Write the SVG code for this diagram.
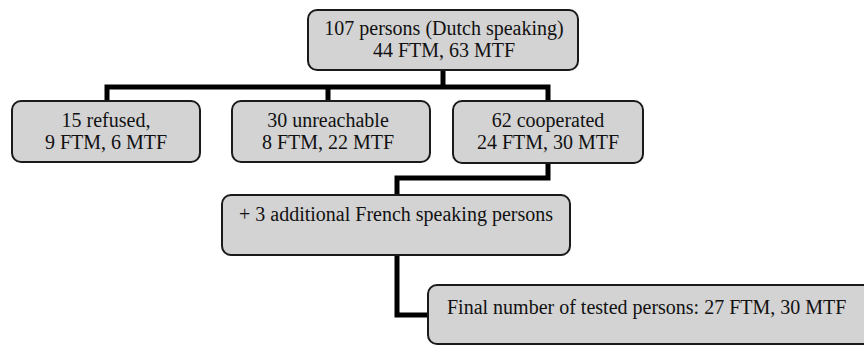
<svg xmlns="http://www.w3.org/2000/svg" width="864" height="346" viewBox="0 0 864 346">
<style>
.box{fill:#d3d3d3;stroke:#1a1a1a;stroke-width:2}
.t{font-family:"Liberation Serif","Times New Roman",serif;font-size:20px;fill:#111;text-anchor:middle}
.c{fill:none;stroke:#000;stroke-width:5;stroke-linejoin:miter}
</style>
<rect width="864" height="346" fill="#fff"/>
<g id="connectors">
<path class="c" d="M443 70 V87 M107 101 V87 H548 V101 M328 87 V101"/>
<path class="c" d="M548 163 V178 H397 V195"/>
<path class="c" d="M397 255 V315 H428"/>
</g>
<g id="n-top">
<rect class="box" x="308" y="10" width="270" height="60" rx="9"/>
<text class="t" x="444" y="35">107 persons (Dutch speaking)</text>
<text class="t" x="444" y="57">44 FTM, 63 MTF</text>
</g>
<g id="n-refused">
<rect class="box" x="12" y="101" width="188" height="61" rx="9"/>
<text class="t" x="106" y="127">15 refused,</text>
<text class="t" x="106" y="149">9 FTM, 6 MTF</text>
</g>
<g id="n-unreachable">
<rect class="box" x="232" y="101" width="198" height="61" rx="9"/>
<text class="t" x="328" y="127">30 unreachable</text>
<text class="t" x="328" y="149">8 FTM, 22 MTF</text>
</g>
<g id="n-cooperated">
<rect class="box" x="453" y="101" width="190" height="62" rx="9"/>
<text class="t" x="548" y="127">62 cooperated</text>
<text class="t" x="548" y="149">24 FTM, 30 MTF</text>
</g>
<g id="n-french">
<rect class="box" x="222" y="195" width="348" height="60" rx="9"/>
<text class="t" x="396" y="221">+ 3 additional French speaking persons</text>
</g>
<g id="n-final">
<rect class="box" x="428" y="285" width="450" height="59" rx="9"/>
<text class="t" x="447" y="314" style="text-anchor:start">Final number of tested persons: 27 FTM, 30 MTF</text>
</g>
</svg>
